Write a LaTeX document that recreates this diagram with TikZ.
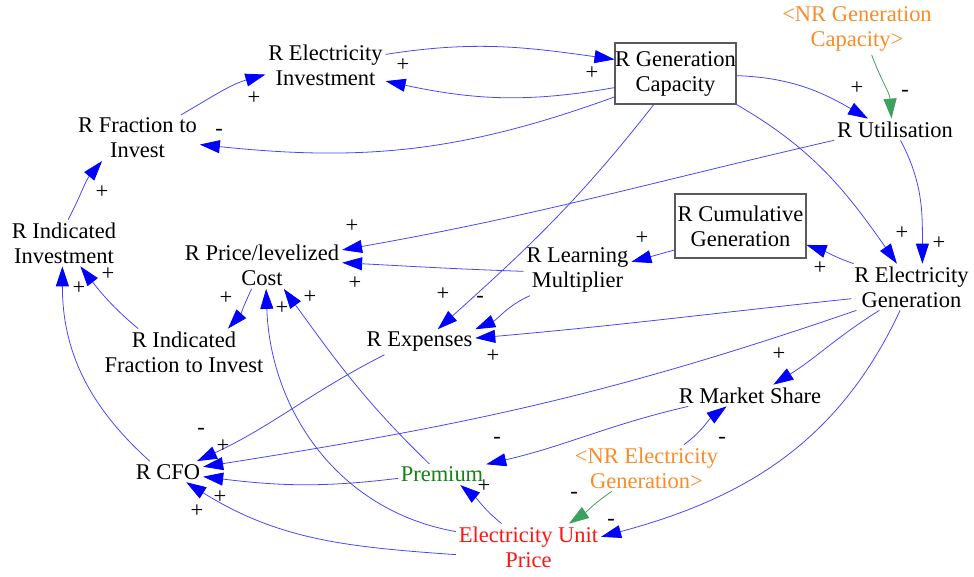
\documentclass[tikz,border=0pt]{standalone}
\usepackage{fontspec}
\setmainfont{Liberation Serif}
\usetikzlibrary{arrows.meta}
\definecolor{linkblue}{RGB}{70,70,255}
\definecolor{headblue}{RGB}{0,0,255}
\definecolor{shadoworange}{RGB}{250,140,40}
\definecolor{shadowgreen}{RGB}{60,160,95}
\definecolor{premiumgreen}{RGB}{20,130,20}
\definecolor{pricered}{RGB}{255,20,20}
\definecolor{stockgray}{RGB}{90,90,90}
\begin{document}
\begin{tikzpicture}[x=0.02cm, y=0.02cm,
  var/.style={align=center, inner sep=1.5pt, font=\fontsize{12.8pt}{14.2pt}\selectfont},
  stock/.style={var, draw=stockgray, line width=0.6pt, inner sep=0pt},
  shadowvar/.style={var, text=shadoworange},
  link/.style={draw=linkblue, line width=0.45pt, -{Triangle[length=0.40cm, width=0.26cm, color=headblue]}},
  shadowlink/.style={draw=shadowgreen, line width=0.45pt, -{Triangle[length=0.40cm, width=0.26cm, color=shadowgreen]}},
  pol/.style={inner sep=0pt, font=\fontsize{12.8pt}{14.2pt}\selectfont}
]
\useasboundingbox (0,0) rectangle (974,-576);

% variables and stocks
\node[var] (ei) at (325.5,-65) {R Electricity\\Investment};
\node[stock, minimum width=2.42cm, minimum height=1.22cm] (gc) at (675.5,-73.5) {R Generation\\Capacity};
\node[shadowvar] (nrgc) at (857,-29.4) {<NR Generation\\Capacity>};
\node[var] (ut) at (895,-129.5) {R Utilisation};
\node[var] (fi) at (137.5,-138) {R Fraction to\\Invest};
\node[var] (ii) at (64,-243) {R Indicated\\Investment};
\node[var] (pc) at (262,-265.5) {R Price/levelized\\Cost};
\node[stock, minimum width=2.62cm, minimum height=1.28cm] (cg) at (740.5,-226) {R Cumulative\\Generation};
\node[var] (lm) at (577.5,-270.4) {R Learning\\Multiplier};
\node[var] (eg) at (911.5,-287) {R Electricity\\Generation};
\node[var] (ifi) at (184,-352) {R Indicated\\Fraction to Invest};
\node[var] (ex) at (419.5,-342) {R Expenses};
\node[var] (ms) at (750,-395.5) {R Market Share};
\node[var] (cfo) at (168,-471.7) {R CFO};
\node[var, text=premiumgreen] (pr) at (442,-474.5) {Premium};
\node[shadowvar] (nreg) at (646.5,-468) {<NR Electricity\\Generation>};
\node[var, text=pricered] (eup) at (528.5,-547) {Electricity Unit\\Price};

% causal links
\draw[link] (ei.10) to[out=9,in=172] (gc.167);
\draw[link] (gc.193) to[out=190,in=348] (ei.-15);
\draw[link] (gc.201) to[out=200,in=354] (fi.-6);
\draw[link] (fi.28) to[out=30,in=196] (ei.189);
\draw[link] (ii.80) to[out=62,in=230] (fi.213);
\draw[link] (gc.-2) to[out=-2,in=150] (ut.158);
\draw[shadowlink] (nrgc.-60) to[out=-70,in=94] (ut.108);
\draw[link] (ut.190) to[out=193,in=10] (pc.11);
\draw[link] (ut.-63) to[out=-62,in=90] (eg.65);
\draw[link] (gc.south east) to[out=-30,in=125] (eg.122);
\draw[link] (gc.235) to[out=232,in=42] (ex.35);
\draw[link] (cg.200) to[out=195,in=15] (lm.9);
\draw[link] (eg.158) to[out=161,in=341] (cg.-16);
\draw[link] (lm.181) to[out=178,in=-3] (pc.2);
\draw[link] (lm.208) to[out=204,in=24] (ex.north east);
\draw[link] (eg.191) to[out=186,in=5] (ex.4);
\draw[link] (eg.216) to[out=212,in=32] (ms.25);
\draw[link] (eg.203) to[out=199,in=9] (cfo.8);
\draw[link] (ex.200) to[out=207,in=25] (cfo.20);
\draw[link] (pr.185) to[out=187,in=-7] (cfo.-8);
\draw[link] (eup.186) to[out=176,in=-32] (cfo.-30);
\draw[link] (cfo.150) to[out=138,in=-90] (ii.266);
\draw[link] (ifi.153) to[out=140,in=-52] (ii.-55);
\draw[link] (pc.246) to[out=245,in=48] (ifi.28);
\draw[link] (pr.140) to[out=136,in=-54] (pc.-47);
\draw[link] (eup.168) to[out=170,in=-88] (pc.-80);
\draw[link] (eup.139) to[out=141,in=-39] (pr.-30);
\draw[link] (ms.190) to[out=193,in=13] (pr.13);
\draw[link] (nreg.32) to[out=36,in=216] (ms.205);
\draw[shadowlink] (nreg.214) to[out=214,in=34] (eup.30);
\draw[link] (eg.244) to[out=245,in=15] (eup.8);

% link polarities
\node[pol] (p1) at (592,-73) {+};
\node[pol] (p2) at (403,-65) {+};
\node[pol] (p3) at (219,-132) {-};
\node[pol] (p4) at (254,-98) {+};
\node[pol] (p5) at (102,-192) {+};
\node[pol] (p6) at (857,-88) {+};
\node[pol] (p7) at (905,-93) {-};
\node[pol] (p8) at (352,-226) {+};
\node[pol] (p9) at (939,-243) {+};
\node[pol] (p10) at (902,-233) {+};
\node[pol] (p11) at (443,-294) {+};
\node[pol] (p12) at (642,-238) {+};
\node[pol] (p13) at (820,-268) {+};
\node[pol] (p14) at (355,-283) {+};
\node[pol] (p15) at (480,-299) {-};
\node[pol] (p16) at (493,-356) {+};
\node[pol] (p17) at (779,-354) {+};
\node[pol] (p18) at (223,-446) {+};
\node[pol] (p19) at (201,-431) {-};
\node[pol] (p20) at (220,-497) {+};
\node[pol] (p21) at (197,-511) {+};
\node[pol] (p22) at (79,-288) {+};
\node[pol] (p23) at (108,-274) {+};
\node[pol] (p24) at (226,-298) {+};
\node[pol] (p25) at (310,-297) {+};
\node[pol] (p26) at (282,-308) {+};
\node[pol] (p27) at (484,-486) {+};
\node[pol] (p28) at (497,-440) {-};
\node[pol] (p29) at (722,-440) {-};
\node[pol] (p30) at (574,-495) {-};
\node[pol] (p31) at (611,-522) {-};
\end{tikzpicture}
\end{document}
